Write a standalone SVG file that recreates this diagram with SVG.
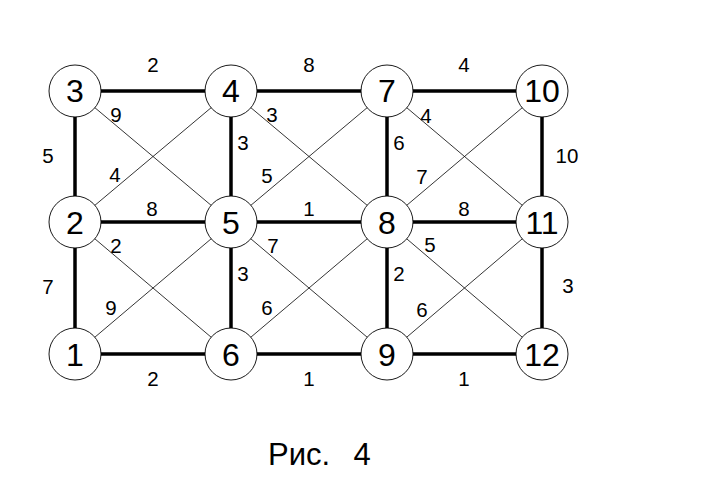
<svg xmlns="http://www.w3.org/2000/svg" width="707" height="494" viewBox="0 0 707 494">
<style>
.thick{stroke:#000;stroke-width:3.5;fill:none}
.thin{stroke:#000;stroke-width:0.8;fill:none}
.node circle{fill:#fff;stroke:#000;stroke-width:0.9}
.node text{font-family:"Liberation Sans",Arial,sans-serif;font-size:32px;text-anchor:middle;fill:#000}
.lbl{font-family:"Liberation Sans",Arial,sans-serif;font-size:20.5px;text-anchor:middle;fill:#000}
.cap{font-family:"Liberation Sans",Arial,sans-serif;font-size:31px;fill:#000}
</style>
<rect width="707" height="494" fill="#fff"/>
<g id="connectors">
<line class="thick" x1="75" y1="91" x2="542" y2="91"/>
<line class="thick" x1="75" y1="222" x2="542" y2="222"/>
<line class="thick" x1="75" y1="354" x2="542" y2="354"/>
<line class="thick" x1="75" y1="91" x2="75" y2="354"/>
<line class="thick" x1="231" y1="91" x2="231" y2="354"/>
<line class="thick" x1="387" y1="91" x2="387" y2="354"/>
<line class="thick" x1="542" y1="91" x2="542" y2="354"/>
<line class="thin" x1="75" y1="91" x2="231" y2="222"/>
<line class="thin" x1="231" y1="91" x2="75" y2="222"/>
<line class="thin" x1="231" y1="91" x2="387" y2="222"/>
<line class="thin" x1="387" y1="91" x2="231" y2="222"/>
<line class="thin" x1="387" y1="91" x2="542" y2="222"/>
<line class="thin" x1="542" y1="91" x2="387" y2="222"/>
<line class="thin" x1="75" y1="222" x2="231" y2="354"/>
<line class="thin" x1="231" y1="222" x2="75" y2="354"/>
<line class="thin" x1="231" y1="222" x2="387" y2="354"/>
<line class="thin" x1="387" y1="222" x2="231" y2="354"/>
<line class="thin" x1="387" y1="222" x2="542" y2="354"/>
<line class="thin" x1="542" y1="222" x2="387" y2="354"/>
</g>
<g id="labels">
<text class="lbl" x="153" y="72">2</text>
<text class="lbl" x="309" y="72">8</text>
<text class="lbl" x="464" y="72">4</text>
<text class="lbl" x="116" y="122">9</text>
<text class="lbl" x="272" y="122">3</text>
<text class="lbl" x="426" y="123">4</text>
<text class="lbl" x="48" y="163">5</text>
<text class="lbl" x="243" y="150">3</text>
<text class="lbl" x="399" y="150">6</text>
<text class="lbl" x="567" y="163">10</text>
<text class="lbl" x="115" y="182">4</text>
<text class="lbl" x="267" y="183">5</text>
<text class="lbl" x="422" y="184">7</text>
<text class="lbl" x="152" y="216">8</text>
<text class="lbl" x="309" y="216">1</text>
<text class="lbl" x="464" y="216">8</text>
<text class="lbl" x="116" y="253">2</text>
<text class="lbl" x="273" y="253">7</text>
<text class="lbl" x="430" y="252">5</text>
<text class="lbl" x="48" y="294">7</text>
<text class="lbl" x="243" y="281">3</text>
<text class="lbl" x="399" y="281">2</text>
<text class="lbl" x="568" y="293">3</text>
<text class="lbl" x="111" y="315">9</text>
<text class="lbl" x="267" y="315">6</text>
<text class="lbl" x="422" y="317">6</text>
<text class="lbl" x="153" y="386">2</text>
<text class="lbl" x="309" y="386">1</text>
<text class="lbl" x="464" y="386">1</text>
</g>
<g id="node1" class="node"><circle cx="75" cy="354" r="26"/><text x="75" y="366">1</text></g>
<g id="node2" class="node"><circle cx="75" cy="222" r="26"/><text x="75" y="234">2</text></g>
<g id="node3" class="node"><circle cx="75" cy="91" r="26"/><text x="75" y="102">3</text></g>
<g id="node4" class="node"><circle cx="231" cy="91" r="26"/><text x="231" y="102">4</text></g>
<g id="node5" class="node"><circle cx="231" cy="222" r="26"/><text x="231" y="234">5</text></g>
<g id="node6" class="node"><circle cx="231" cy="354" r="26"/><text x="231" y="366">6</text></g>
<g id="node7" class="node"><circle cx="387" cy="91" r="26"/><text x="387" y="102">7</text></g>
<g id="node8" class="node"><circle cx="387" cy="222" r="26"/><text x="387" y="234">8</text></g>
<g id="node9" class="node"><circle cx="387" cy="354" r="26"/><text x="387" y="366">9</text></g>
<g id="node10" class="node"><circle cx="542" cy="91" r="26"/><text x="542" y="102">10</text></g>
<g id="node11" class="node"><circle cx="542" cy="222" r="26"/><text x="542" y="234">11</text></g>
<g id="node12" class="node"><circle cx="542" cy="354" r="26"/><text x="542" y="366">12</text></g>
<text class="cap" x="268" y="465">Рис.</text>
<text class="cap" x="362" y="465" text-anchor="middle">4</text>
</svg>
